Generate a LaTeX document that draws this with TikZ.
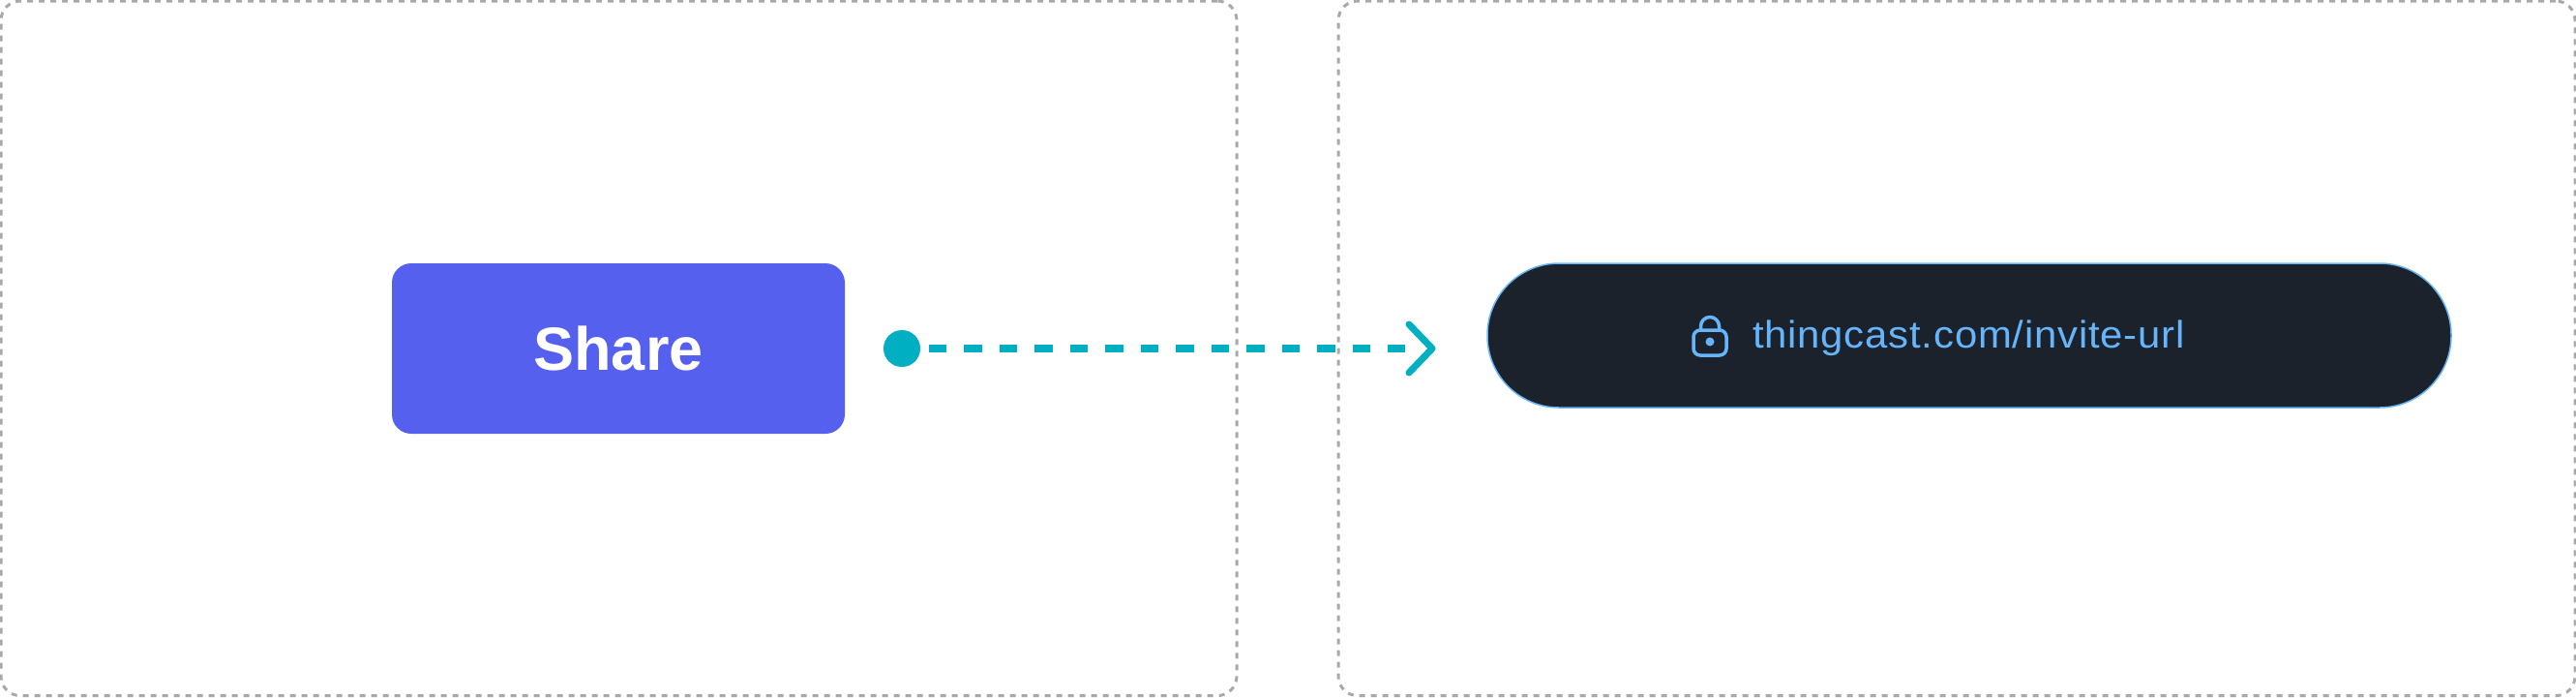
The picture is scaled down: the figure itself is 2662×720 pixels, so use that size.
\documentclass[tikz,border=0pt]{standalone}
\usepackage{fontspec}
\setmainfont{Liberation Sans}
\newfontfamily\urlfont[FakeStretch=1.06,LetterSpace=2]{Liberation Sans}
\definecolor{framegray}{HTML}{A9A9A9}
\definecolor{sharefill}{HTML}{5561EE}
\definecolor{linkteal}{HTML}{00B0C2}
\definecolor{pillfill}{HTML}{1B222B}
\definecolor{urlblue}{HTML}{66B5FA}
\tikzset{
  framebox/.style={draw=framegray,line width=3pt,dash pattern=on 6pt off 6pt,rounded corners=20pt,minimum height=717.6pt,inner sep=0pt},
  sharebox/.style={fill=sharefill,rounded corners=20pt,minimum width=468pt,minimum height=176pt,inner sep=0pt,text=white,font=\fontsize{63}{70}\selectfont\bfseries},
  urlpill/.style={draw=urlblue,line width=1.5pt,fill=pillfill,rounded corners=74pt,minimum width=996pt,minimum height=149pt,inner sep=0pt},
}
\begin{document}
\begin{tikzpicture}[x=1pt,y=-1pt]
        \useasboundingbox (0,0) rectangle (2662,720);

        \node[framebox,minimum width=1277pt] (leftframe)  at (639.5,359.8) {};
        \node[framebox,minimum width=1278pt] (rightframe) at (2022,359.8) {};

        \node[sharebox] (share) at (639,360) {Share};

        \node[urlpill] (pill) at (2035,346.5) {};
        \node[anchor=base west,inner sep=0pt,text=urlblue,font=\urlfont\fontsize{39.5}{44}\selectfont] (url) at (1811,359.3) {thingcast.com/invite-url};

        % lock
        \begin{scope}[draw=urlblue,line width=3.5pt]
          \draw[rounded corners=7pt] (1750,341) rectangle (1784,367);
          \draw (1757.5,341) -- (1757.5,337) arc (180:360:9.5) -- (1776.5,341);
        \end{scope}
        \node[circle,fill=urlblue,minimum size=9pt,inner sep=0pt] (keyhole) at (1767,353) {};

        % link
        \node[circle,fill=linkteal,minimum size=38pt,inner sep=0pt] (dot) at (932,360) {};
        \coordinate (linkend) at (1452,360);
        \coordinate (tip) at (1480,360);
        \coordinate (tipup) at (1456,335);
        \coordinate (tipdown) at (1456,385);
        \draw[linkteal,line width=7.5pt,dash pattern=on 18.4pt off 18.1pt,shorten <=8.6pt] (dot) -- (linkend);
        \draw[linkteal,line width=7pt,line cap=round,line join=round] (tipup) -- (tip) -- (tipdown);
\end{tikzpicture}
\end{document}
